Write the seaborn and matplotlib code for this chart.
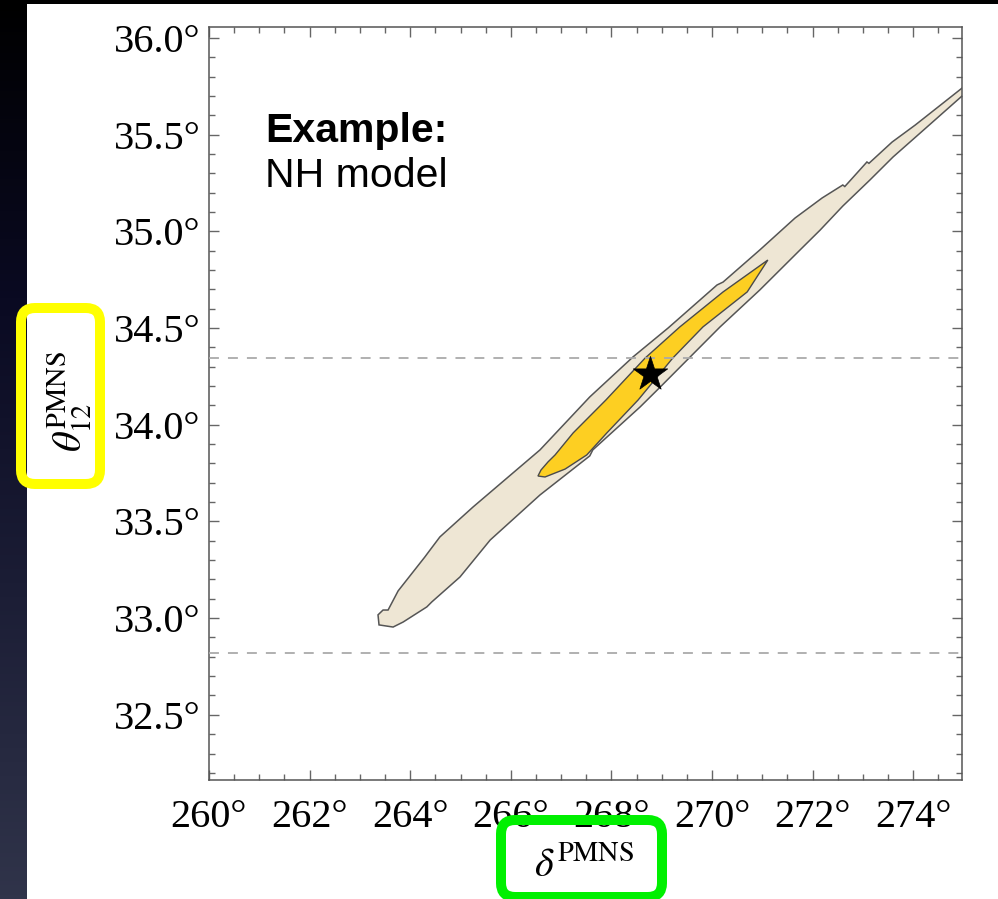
import numpy as np
import pandas as pd
import matplotlib
matplotlib.use("Agg")
import matplotlib.pyplot as plt
import seaborn as sns
from matplotlib.patches import FancyBboxPatch, Rectangle
from matplotlib.transforms import IdentityTransform
from matplotlib.colors import LinearSegmentedColormap
from matplotlib.ticker import MultipleLocator

# ---------------- data ----------------
# outer (3 sigma) region: upper edge, left -> right
outer_delta_upper = [263.38, 263.36, 263.46, 263.56, 263.76, 264.29, 264.35, 264.59,
                     265.25, 266.58, 267.57, 268.43, 269.13, 270.10, 270.22, 270.95,
                     271.65, 272.19, 272.60, 272.64, 273.08, 273.12, 273.58, 274.04,
                     274.97, 275.23]
outer_theta_upper = [32.965, 33.017, 33.042, 33.042, 33.141, 33.316, 33.337, 33.420,
                     33.575, 33.870, 34.144, 34.351, 34.501, 34.723, 34.738, 34.904,
                     35.069, 35.173, 35.240, 35.232, 35.359, 35.352, 35.462, 35.550,
                     35.741, 35.793]
# outer region: lower edge, right -> left
outer_delta_lower = [275.23, 274.97, 274.14, 273.60, 273.14, 272.60, 272.15, 271.75,
                     270.95, 270.16, 268.97, 268.57, 267.63, 267.57, 266.58, 265.59,
                     264.99, 264.43, 264.33, 263.86, 263.66]
outer_theta_lower = [35.745, 35.700, 35.509, 35.385, 35.266, 35.131, 35.007, 34.904,
                     34.697, 34.506, 34.195, 34.092, 33.870, 33.839, 33.637, 33.404,
                     33.213, 33.084, 33.058, 32.980, 32.954]
# inner (1 sigma) region, going round
inner_delta = [266.54, 266.60, 266.74, 266.88, 267.24, 267.89, 268.67, 269.36, 270.22,
               271.11, 270.70, 269.82, 269.22, 268.53, 267.91, 267.51, 267.08, 266.68]
inner_theta = [33.735, 33.766, 33.808, 33.844, 33.958, 34.128, 34.345, 34.506, 34.687,
               34.852, 34.687, 34.506, 34.345, 34.128, 33.958, 33.844, 33.771, 33.730]
# best fit point
best_delta = [268.77]
best_theta = [34.263]
# experimental 3 sigma range of theta12
theta_range = [34.345, 32.82]

x_ticks = [260, 262, 264, 266, 268, 270, 272, 274]
y_ticks = [32.5, 33.0, 33.5, 34.0, 34.5, 35.0, 35.5, 36.0]
x_tick_labels = [f"{v}°" for v in x_ticks]
y_tick_labels = [f"{v:.1f}°" for v in y_ticks]

title_bold = "Example:"
title_plain = "NH model"

# ---------------- style ----------------
sns.set_theme(style="white")
plt.rcParams["font.family"] = ["Liberation Serif", "DejaVu Serif"]
plt.rcParams["mathtext.fontset"] = "stix"

W, H, DPI = 998, 899, 100
fig = plt.figure(figsize=(W / DPI, H / DPI), dpi=DPI)
fig.patch.set_facecolor("black")

# background: dark gradient + white slide panel
bg = fig.add_axes([0, 0, 1, 1], zorder=-10)
bg.set_axis_off()
cmap = LinearSegmentedColormap.from_list("bg", ["#000000", "#0a0a22", "#1c1e36", "#30344a"])
grad = np.linspace(0, 1, 256).reshape(-1, 1)
bg.imshow(grad, aspect="auto", cmap=cmap, extent=[0, 1, 0, 1], origin="upper")
bg.set_xlim(0, 1)
bg.set_ylim(0, 1)
bg.add_patch(Rectangle((27 / W, 0), 1 - 27 / W, 1 - 4 / H, facecolor="white",
                       edgecolor="none", transform=bg.transAxes))

# main axes
ax = fig.add_axes([209 / W, 119 / H, 753 / W, 753 / H])
ax.set_facecolor("white")

outer_df = pd.DataFrame({"delta": outer_delta_upper + outer_delta_lower,
                         "theta": outer_theta_upper + outer_theta_lower})
inner_df = pd.DataFrame({"delta": inner_delta, "theta": inner_theta})

ax.fill(outer_df["delta"], outer_df["theta"], facecolor="#EEE6D4",
        edgecolor="#555555", linewidth=1.1, zorder=2)
ax.fill(inner_df["delta"], inner_df["theta"], facecolor="#FDCF22",
        edgecolor="#4a4a4a", linewidth=1.0, zorder=3)

for t in theta_range:
    ax.axhline(t, color="#AAAAAA", linewidth=1.3, dashes=(5.5, 5.0), zorder=4)

sns.scatterplot(x=best_delta, y=best_theta, marker="*", s=680, color="black",
                edgecolor="black", linewidth=0.5, ax=ax, zorder=6, legend=False)

ax.set_xlim(260, 274.97)
ax.set_ylim(32.163, 36.057)

ax.set_xticks(x_ticks)
ax.set_xticklabels(x_tick_labels)
ax.set_yticks(y_ticks)
ax.set_yticklabels(y_tick_labels)
ax.xaxis.set_minor_locator(MultipleLocator(0.5))
ax.yaxis.set_minor_locator(MultipleLocator(0.1))
ax.tick_params(which="both", direction="in", top=True, right=True, bottom=True, left=True,
               color="#666666", width=1.0, labelsize=29, labelcolor="black")
ax.tick_params(which="major", length=7)
ax.tick_params(which="minor", length=4.2)
ax.tick_params(axis="x", which="major", pad=14)
ax.tick_params(axis="y", which="major", pad=6)
for s in ax.spines.values():
    s.set_color("#555555")
    s.set_linewidth(1.1)
    s.set_visible(True)

# annotation
ax.text(0.0744, 0.8473, title_bold, transform=ax.transAxes, ha="left", va="baseline",
        fontsize=29.5, fontweight="bold", family=["Liberation Sans", "DejaVu Sans"],
        color="black")
ax.text(0.0744, 0.7875, title_plain, transform=ax.transAxes, ha="left", va="baseline",
        fontsize=29.5, family=["Liberation Sans", "DejaVu Sans"], color="black")

# axis labels (placed as in the slide)
fig.text(70 / W, 1 - 402 / H, r"$\theta_{12}^{\rm PMNS}$", rotation=90,
         ha="center", va="center", fontsize=29, color="black")
fig.text(584 / W, 1 - 866 / H, r"$\delta^{\rm PMNS}$", ha="center", va="center",
         fontsize=29, color="black")

# highlight boxes
fig.patches.append(FancyBboxPatch((21, H - 484), 79, 176,
                                  boxstyle="round,pad=0,rounding_size=14",
                                  facecolor="none", edgecolor="#FFFF00", linewidth=7.2,
                                  transform=IdentityTransform(), figure=fig, zorder=20))
fig.patches.append(FancyBboxPatch((501, H - 897), 161, 77,
                                  boxstyle="round,pad=0,rounding_size=14",
                                  facecolor="none", edgecolor="#00F000", linewidth=7.2,
                                  transform=IdentityTransform(), figure=fig, zorder=20))

fig.savefig("out.png", dpi=DPI, facecolor=fig.get_facecolor())
